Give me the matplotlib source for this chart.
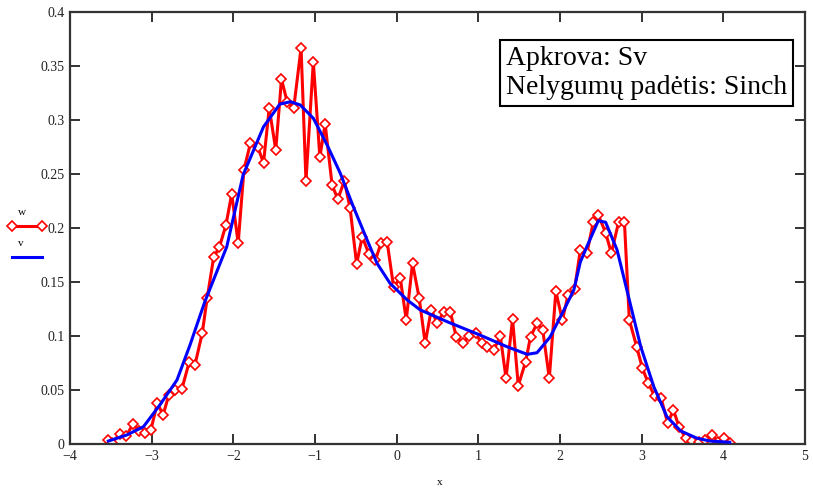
import matplotlib
matplotlib.use("Agg")
import matplotlib.pyplot as plt
from matplotlib.lines import Line2D

plt.rcParams['font.family'] = ['Liberation Serif', 'DejaVu Serif']
plt.rcParams['axes.unicode_minus'] = True

# duomenys (nuskaityti is grafiko)
w_x = [-3.54, -3.49, -3.39, -3.31, -3.23, -3.15, -3.08, -3.01, -2.93, -2.86,
       -2.79, -2.71, -2.63, -2.54, -2.47, -2.38, -2.32, -2.24, -2.17, -2.09,
       -2.02, -1.94, -1.87, -1.79, -1.70, -1.63, -1.56, -1.48, -1.41, -1.34,
       -1.26, -1.17, -1.11, -1.02, -0.94, -0.875, -0.79, -0.72, -0.64, -0.57,
       -0.49, -0.42, -0.34, -0.26, -0.19, -0.115, -0.036, 0.044, 0.118, 0.195,
       0.277, 0.35, 0.424, 0.50, 0.575, 0.657, 0.73, 0.81, 0.89, 0.97,
       1.04, 1.11, 1.19, 1.27, 1.34, 1.42, 1.49, 1.58, 1.64, 1.72,
       1.79, 1.87, 1.95, 2.03, 2.10, 2.18, 2.25, 2.33, 2.41, 2.47,
       2.56, 2.63, 2.72, 2.79, 2.85, 2.94, 3.01, 3.08, 3.16, 3.24,
       3.32, 3.39, 3.46, 3.54, 3.62, 3.70, 3.78, 3.86, 3.94, 4.01, 4.08]
w_y = [0.004, 0.001, 0.0095, 0.0077, 0.0188, 0.0123, 0.0105, 0.0132, 0.0382, 0.0271,
       0.0456, 0.0503, 0.0512, 0.0762, 0.0734, 0.103, 0.1355, 0.1734, 0.1827, 0.203,
       0.2318, 0.1864, 0.254, 0.279, 0.2753, 0.2605, 0.3114, 0.2725, 0.3382, 0.317,
       0.3114, 0.367, 0.2438, 0.354, 0.266, 0.2966, 0.240, 0.227, 0.2438, 0.2188,
       0.167, 0.1924, 0.1762, 0.1706, 0.1864, 0.1869, 0.1452, 0.1544, 0.1151, 0.1676,
       0.1352, 0.0935, 0.1244, 0.112, 0.1228, 0.1228, 0.0996, 0.0935, 0.1006, 0.1028,
       0.0935, 0.0904, 0.0873, 0.1003, 0.0611, 0.116, 0.0543, 0.0765, 0.0996, 0.112,
       0.1058, 0.0611, 0.1415, 0.1151, 0.1382, 0.1438, 0.1799, 0.1769, 0.2061, 0.2123,
       0.1959, 0.1769, 0.2061, 0.2061, 0.1151, 0.0904, 0.0704, 0.057, 0.0447, 0.0426,
       0.0194, 0.0318, 0.016, 0.0058, 0.0026, 0.0024, 0.004, 0.0086, 0.0024, 0.0056, 0.0015]

v_x = [-3.53, -3.305, -3.10, -2.90, -2.69, -2.53, -2.35, -2.08, -1.88, -1.63,
       -1.43, -1.30, -1.18, -1.02, -0.85, -0.69, -0.53, -0.36, -0.24, -0.08,
       0.13, 0.29, 0.62, 1.02, 1.35, 1.60, 1.72, 1.88, 2.05, 2.17,
       2.25, 2.33, 2.47, 2.56, 2.70, 2.84, 2.99, 3.15, 3.31, 3.48,
       3.68, 3.84, 4.08]
v_y = [0.003, 0.0086, 0.0163, 0.0364, 0.0595, 0.092, 0.1318, 0.183, 0.2494, 0.294,
       0.315, 0.3172, 0.3142, 0.3019, 0.277, 0.251, 0.22, 0.189, 0.1676, 0.149,
       0.1336, 0.1244, 0.1135, 0.1012, 0.0904, 0.0833, 0.0848, 0.0994, 0.1244, 0.1429,
       0.1688, 0.183, 0.207, 0.2056, 0.18, 0.1367, 0.0904, 0.0533, 0.0256, 0.0123,
       0.0056, 0.003, 0.0019]

x_ticks = [-4, -3, -2, -1, 0, 1, 2, 3, 4, 5]
y_ticks = [0, 0.05, 0.1, 0.15, 0.2, 0.25, 0.3, 0.35, 0.4]
y_labels = ['0', '0.05', '0.1', '0.15', '0.2', '0.25', '0.3', '0.35', '0.4']

fig = plt.figure(figsize=(8.13, 4.93), dpi=100)
ax = fig.add_axes([0.0861, 0.0988, 0.9039, 0.8762])

ax.plot(w_x, w_y, color='#ff0000', lw=2.2, marker='D', ms=5.5,
        mfc='white', mec='#ff0000', mew=1.2, zorder=2)
ax.plot(v_x, v_y, color='#0000ff', lw=2.2, zorder=3)

ax.set_xlim(-4, 5)
ax.set_ylim(0, 0.4)
ax.set_xticks(x_ticks)
ax.set_xticklabels(['\u2212' + str(-t) if t < 0 else str(t) for t in x_ticks])
ax.set_yticks(y_ticks)
ax.set_yticklabels(y_labels)
ax.tick_params(direction='in', length=7, width=1.3, top=True, right=True,
               labelsize=10, colors='#222222', pad=4)
for s in ax.spines.values():
    s.set_color('#333333')
    s.set_linewidth(1.6)

ax.text(0.593, 0.922, 'Apkrova: Sv\nNelygumų padėtis: Sinch', transform=ax.transAxes,
        fontsize=20, ha='left', va='top', linespacing=1.2,
        bbox=dict(boxstyle='square,pad=0.22', fc='white', ec='black', lw=1.5))

# legenda kaireje
fig.text(0.022, 0.568, 'w', fontsize=8, ha='left', va='center')
fig.add_artist(Line2D([0.0148, 0.0517], [0.5416, 0.5416], color='#ff0000', lw=2.2,
                      marker='D', ms=5.5, mfc='white', mec='#ff0000', mew=1.2,
                      transform=fig.transFigure))
fig.text(0.022, 0.507, 'v', fontsize=8, ha='left', va='center')
fig.add_artist(Line2D([0.0148, 0.0517], [0.4787, 0.4787], color='#0000ff', lw=2.2,
                      transform=fig.transFigure))

fig.text(0.541, 0.0223, 'x', fontsize=8, ha='center', va='center')

fig.savefig('out.png', dpi=100)
